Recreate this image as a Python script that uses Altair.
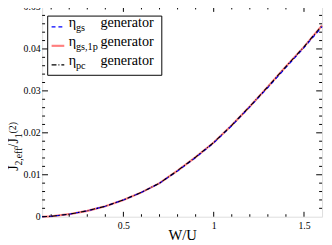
import altair as alt
import pandas as pd

# ---- data ----
W = [0.05, 0.1, 0.2, 0.3, 0.4, 0.5, 0.6, 0.7, 0.8, 0.9, 1.0, 1.1, 1.2, 1.3, 1.4, 1.5, 1.6]
eta_gs = [0.0, 0.0001, 0.0006, 0.0014, 0.0025, 0.0040, 0.0058, 0.0080, 0.0109, 0.0141,
          0.0176, 0.0217, 0.0262, 0.0308, 0.0356, 0.0403, 0.0453]
eta_gs1p = [0.0, 0.0001, 0.0006, 0.0014, 0.0025, 0.0040, 0.0058, 0.0080, 0.0110, 0.0142,
            0.0177, 0.0218, 0.0263, 0.0310, 0.0358, 0.0405, 0.0456]
eta_pc = [0.0, 0.0001, 0.0006, 0.0014, 0.0025, 0.0040, 0.0058, 0.0080, 0.0110, 0.0142,
          0.0177, 0.0218, 0.0263, 0.0310, 0.0358, 0.0405, 0.0456]

x_major = [0.5, 1.0, 1.5]
x_minor = [0.1, 0.2, 0.3, 0.4, 0.6, 0.7, 0.8, 0.9, 1.1, 1.2, 1.3, 1.4]
y_labels = [0, 0.01, 0.02, 0.03, 0.04, 0.05]
y_major = [0.01, 0.02, 0.03, 0.04]
y_minor = [0.002, 0.004, 0.006, 0.008, 0.012, 0.014, 0.016, 0.018, 0.022, 0.024, 0.026,
           0.028, 0.032, 0.034, 0.036, 0.038, 0.042, 0.044, 0.046, 0.048]

series_names = ["gs", "gs,1p", "pc"]
legend_word = "generator"

W_PLOT = 287
H_PLOT = 215
FONT = "'Liberation Serif', 'Times New Roman', Times, 'DejaVu Serif', serif"

xs = alt.Scale(domain=[0.05, 1.6], nice=False, zero=False)
ys = alt.Scale(domain=[0, 0.05], nice=False, zero=False)
xax = alt.Axis(values=x_major, format="~g", title="", ticks=False, domain=False, grid=False,
               labelFont=FONT, labelFontSize=10, labelPadding=4, labelColor="black")
yax = alt.Axis(values=y_labels, format=".2~f", title="", ticks=False, domain=False, grid=False,
               labelFont=FONT, labelFontSize=10, labelPadding=2, labelColor="black")


def X(f):
    return alt.X(f, type="quantitative", scale=xs, axis=xax)


def Y(f):
    return alt.Y(f, type="quantitative", scale=ys, axis=yax)


df = pd.DataFrame({"W": W, "gs": eta_gs, "gs1p": eta_gs1p, "pc": eta_pc})

red = alt.Chart(df).mark_line(color="#ff0000", opacity=0.5, strokeWidth=2.2).encode(
    x=X("W"), y=Y("gs1p"))
blue = alt.Chart(df).mark_line(color="#0000ff", strokeWidth=1.2, strokeDash=[4, 3]).encode(
    x=X("W"), y=Y("gs"))
black = alt.Chart(df).mark_line(color="#000000", strokeWidth=1.1, strokeDash=[5, 2, 1, 2]).encode(
    x=X("W"), y=Y("pc"))

layers = [red, blue, black]

# inner ticks (bottom/top, left/right)
dxM = pd.DataFrame({"v": x_major})
dxm = pd.DataFrame({"v": x_minor})
dyM = pd.DataFrame({"v": y_major})
dym = pd.DataFrame({"v": y_minor})
for d, L in [(dxM, 5), (dxm, 2.5)]:
    layers.append(alt.Chart(d).mark_rule(color="black", strokeWidth=1).encode(
        x=X("v"), y=alt.value(H_PLOT), y2=alt.value(H_PLOT - L)))
    layers.append(alt.Chart(d).mark_rule(color="black", strokeWidth=1).encode(
        x=X("v"), y=alt.value(0), y2=alt.value(L)))
for d, L in [(dyM, 6), (dym, 3)]:
    layers.append(alt.Chart(d).mark_rule(color="black", strokeWidth=1).encode(
        y=Y("v"), x=alt.value(0), x2=alt.value(L)))
    layers.append(alt.Chart(d).mark_rule(color="black", strokeWidth=1).encode(
        y=Y("v"), x=alt.value(W_PLOT), x2=alt.value(W_PLOT - L)))

one = alt.Data(values=[{"a": 1}])

# legend box
layers.append(alt.Chart(one).mark_rect(fill="white", stroke="black", strokeWidth=1).encode(
    x=alt.value(5.7), x2=alt.value(122.7), y=alt.value(9.3), y2=alt.value(70)))

rows_y = [20.3, 39.8, 59.3]
samples = [
    dict(color="#0000ff", strokeWidth=1.3, strokeDash=[4, 3]),
    dict(color="#ff0000", opacity=0.5, strokeWidth=2.2),
    dict(color="#000000", strokeWidth=1.1, strokeDash=[5, 2, 1, 2]),
]
for yy, st, name in zip(rows_y, samples, series_names):
    layers.append(alt.Chart(one).mark_rule(**st).encode(
        x=alt.value(9.7), x2=alt.value(22.7), y=alt.value(yy)))
    layers.append(alt.Chart(one).mark_text(text="η", font=FONT, fontSize=14.5, align="left",
                                           baseline="alphabetic", color="black").encode(
        x=alt.value(27.2), y=alt.value(yy + 0.5)))
    layers.append(alt.Chart(one).mark_text(text=name, font=FONT, fontSize=10.5, align="left",
                                           baseline="alphabetic", color="black").encode(
        x=alt.value(34.6), y=alt.value(yy + 4.5)))
    layers.append(alt.Chart(one).mark_text(text=legend_word, font=FONT, fontSize=14.5, align="left",
                                           baseline="alphabetic", color="black").encode(
        x=alt.value(59.8), y=alt.value(yy + 0.5)))

# x title
layers.append(alt.Chart(one).mark_text(text="W/U", font=FONT, fontSize=15, align="center",
                                       baseline="alphabetic", color="black").encode(
    x=alt.value(144), y=alt.value(238.5)))

# y title: J_{2,eff}/J_1^{(2)} built from pieces, rotated
pieces = [("J", 14, 0, 0.389), ("2,eff", 10, 3.5, 1.86), ("/J", 14, 0, 0.667),
          ("1", 10, 3.5, 0.5), ("(2)", 10, -2.5, 1.166)]
ypos = 168.0
for txt, fs, shift, em in pieces:
    layers.append(alt.Chart(one).mark_text(text=txt, font=FONT, fontSize=fs, align="left",
                                           baseline="alphabetic", angle=270, color="black").encode(
        x=alt.value(-24.5 + shift), y=alt.value(ypos)))
    ypos -= em * fs

chart = alt.layer(*layers).properties(
    width=W_PLOT, height=H_PLOT,
    autosize=alt.AutoSizeParams(type="none"),
    padding={"left": 35, "top": -4, "right": 2, "bottom": 25},
).configure_view(stroke="black", strokeWidth=1).configure(background="white")

chart.save("out.html", embed_options={"renderer": "svg", "actions": False})
